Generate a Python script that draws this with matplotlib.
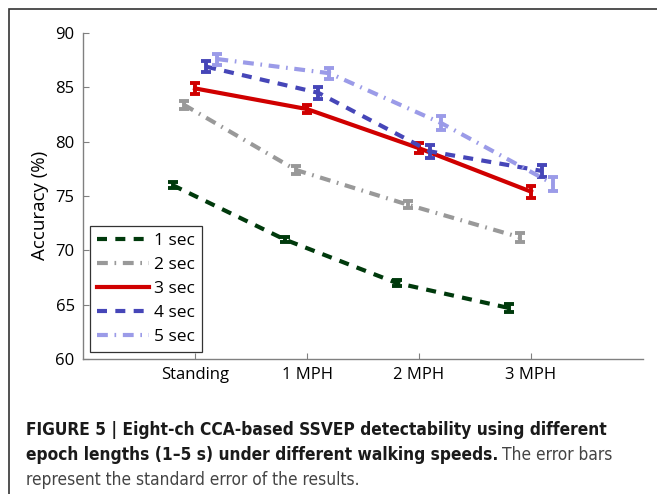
import numpy as np
import matplotlib.pyplot as plt
from matplotlib.patches import Rectangle

plt.rcParams['font.family'] = ['Open Sans', 'DejaVu Sans']

# data
speeds = ['Standing', '1 MPH', '2 MPH', '3 MPH']
epochs = ['1 sec', '2 sec', '3 sec', '4 sec', '5 sec']
acc_1s = [76.0, 71.0, 67.0, 64.7]
acc_2s = [83.4, 77.4, 74.2, 71.2]
acc_3s = [84.9, 83.0, 79.4, 75.4]
acc_4s = [86.9, 84.5, 79.1, 77.3]
acc_5s = [87.6, 86.3, 81.7, 76.1]
err_1s = [0.25, 0.25, 0.3, 0.35]
err_2s = [0.35, 0.4, 0.35, 0.4]
err_3s = [0.5, 0.4, 0.45, 0.55]
err_4s = [0.5, 0.55, 0.6, 0.55]
err_5s = [0.5, 0.5, 0.65, 0.65]

accs = [acc_1s, acc_2s, acc_3s, acc_4s, acc_5s]
errs = [err_1s, err_2s, err_3s, err_4s, err_5s]
colors = ['#003a0c', '#999999', '#d00000', '#4646b8', '#9b9be8']
dashes = [(2.4, 2.0), (2.6, 1.6, 0.4, 1.6), None, (2.4, 2.0), (2.6, 1.6, 0.4, 1.6)]
shift = [-0.2, -0.1, 0.0, 0.1, 0.2]

fig = plt.figure(figsize=(6.57, 4.94), dpi=100)
ax = fig.add_axes([83/657, 1-359/494, 560/657, 326/494])

xpos = np.arange(1, len(speeds)+1)
for i in range(len(epochs)):
    x = xpos + shift[i]
    ax.errorbar(x, accs[i], yerr=errs[i], fmt='none', ecolor=colors[i],
                elinewidth=2.8, capsize=3.5, capthick=2.8, zorder=2+i)
    ln, = ax.plot(x, accs[i], color=colors[i], lw=3.0, label=epochs[i], zorder=2+i)
    if dashes[i] is not None:
        ln.set_dashes(dashes[i])

ax.set_xlim(0, 5)
ax.set_ylim(60, 90)
ax.set_xticks(xpos)
ax.set_xticklabels(speeds)
ax.set_yticks(np.arange(60, 91, 5))
ax.set_ylabel('Accuracy (%)', fontsize=13.5)
ax.yaxis.set_label_coords(-0.06, 0.47)
for s in ['top', 'right']:
    ax.spines[s].set_visible(False)
for s in ['left', 'bottom']:
    ax.spines[s].set_color('#808080')
    ax.spines[s].set_linewidth(1.0)
ax.tick_params(direction='in', length=4, color='#808080', labelsize=12, pad=6)

leg = ax.legend(loc='lower left', bbox_to_anchor=(0.0125, 0.021), borderaxespad=0,
                fontsize=12.5, handlelength=3.0, handletextpad=0.3, labelspacing=0.45,
                fancybox=False, framealpha=1, borderpad=0.4)
leg.get_frame().set_edgecolor('#333333')
leg.get_frame().set_linewidth(0.9)

# outer frame
fig.patches.append(Rectangle((9/657, -0.2), 1.2, 1.2 - 9/494, transform=fig.transFigure,
                             fill=False, edgecolor='#333333', lw=1.2))

# caption
cap = dict(family='DejaVu Sans', stretch='condensed', va='center')
x0 = 26/657
r = fig.canvas.get_renderer()
t1 = fig.text(x0, 1-430/494, 'FIGURE 5 | Eight-ch CCA-based SSVEP detectability using different',
              weight='bold', fontsize=14, color='#1a1a1a', **cap)
w = t1.get_window_extent(renderer=r).width
fs = 14 * 586 / w
t1.set_fontsize(fs)
t2 = fig.text(x0, 1-455/494, 'epoch lengths (1\u20135 s) under different walking speeds.',
              weight='bold', fontsize=fs, color='#1a1a1a', **cap)
bb = t2.get_window_extent(renderer=r)
fig.text((bb.x1 + 4)/fig.bbox.width, 1-455/494, 'The error bars',
         fontsize=fs, color='#444444', **cap)
fig.text(x0, 1-480/494, 'represent the standard error of the results.',
         fontsize=fs, color='#444444', **cap)

fig.savefig('out.png', dpi=100)
